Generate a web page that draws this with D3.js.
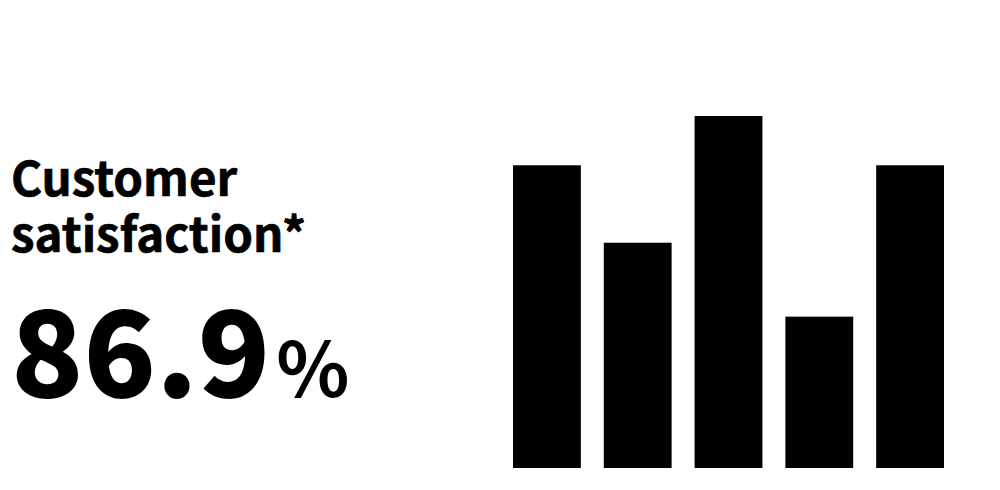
<!DOCTYPE html>
<html>
<head>
<meta charset="utf-8">
<script src="https://cdn.jsdelivr.net/npm/d3@7"></script>
<style>
  html, body { margin: 0; padding: 0; background: #fff; }
  svg { display: block; }
</style>
</head>
<body>
<svg id="chart" width="1000" height="490"></svg>
<script>
const categories = ["1", "2", "3", "4", "5"];
const values = [86, 64, 100, 43, 86];
const titleLines = ["Customer", "satisfaction*"];
const headline = "86.9";
const headlineUnit = "%";

const svg = d3.select("#chart");
const font = "'Noto Sans CJK JP', 'Noto Sans', sans-serif";

const x = d3.scaleBand().domain(categories).range([513, 944]).paddingInner(0.253).paddingOuter(0);
const y = d3.scaleLinear().domain([0, 100]).range([468, 116]);

svg.append("g").selectAll("rect").data(values).join("rect")
  .attr("x", (d, i) => x(categories[i]))
  .attr("y", d => y(d))
  .attr("width", x.bandwidth())
  .attr("height", d => y(0) - y(d))
  .attr("fill", "#000");

titleLines.forEach((l, i) => {
  svg.append("text").attr("font-family", font).attr("font-weight", 700)
    .attr("font-size", 47.5).attr("fill", "#000")
    .attr("stroke", "#000").attr("stroke-width", 0.7)
    .attr("x", 11).attr("y", 196 + i * 56).text(l);
});

const h = svg.append("text").attr("font-family", font).attr("fill", "#000").attr("y", 397).attr("x", 11);
h.append("tspan").attr("font-weight", 900).attr("font-size", 119).text(headline);
h.append("tspan").attr("font-weight", 700).attr("font-size", 76).attr("dx", 6).text(headlineUnit);
</script>
</body>
</html>
